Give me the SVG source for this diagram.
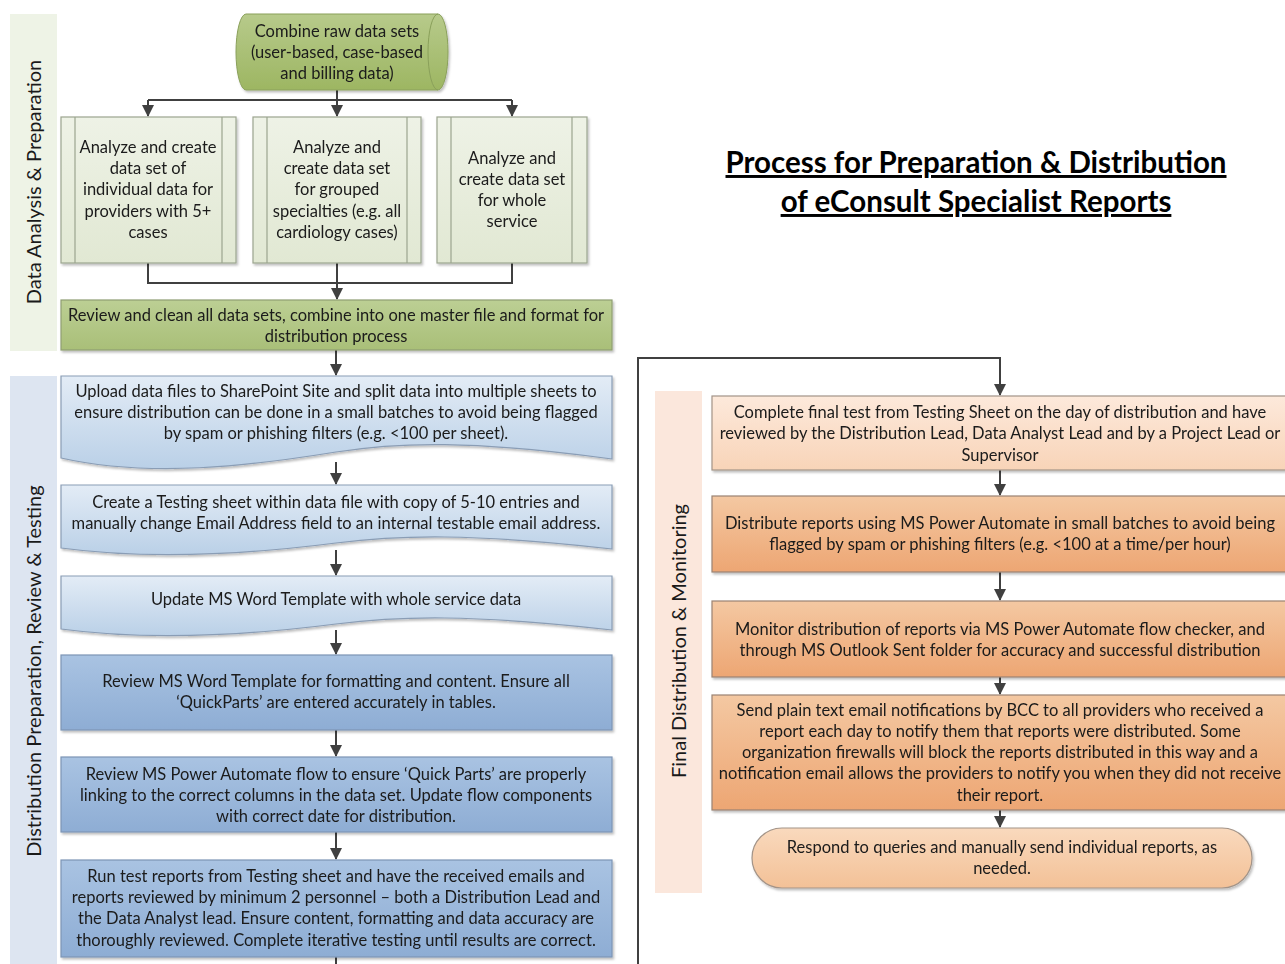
<svg xmlns="http://www.w3.org/2000/svg" width="1285" height="964" viewBox="0 0 1285 964">
<defs>
<style>
text{font-family:Lato,"Liberation Sans",sans-serif;font-size:16.5px;fill:#1a1a1a;text-anchor:middle;}
.lane{font-size:20px;}
.title{font-size:29.5px;font-weight:bold;text-decoration:underline;fill:#000;}
.conn{fill:none;stroke:#404040;stroke-width:2;}
.pp{fill:url(#gPP);stroke:#9ca58f;stroke-width:1.2;}
.ppl{stroke:#9ca58f;stroke-width:1.2;fill:none;}
.doc{fill:url(#gDoc);stroke:#8a9db5;stroke-width:1.2;}
.brect{fill:url(#gBlue);stroke:#7d95b5;stroke-width:1.2;}
.orng{fill:url(#gOr);stroke:#9a8373;stroke-width:1.2;}
</style>
<linearGradient id="gCyl" x1="0" y1="0" x2="0" y2="1"><stop offset="0" stop-color="#b7ca8b"/><stop offset="1" stop-color="#9db662"/></linearGradient>
<linearGradient id="gPP" x1="0" y1="0" x2="0" y2="1"><stop offset="0" stop-color="#eef2e6"/><stop offset="1" stop-color="#e1e8d3"/></linearGradient>
<linearGradient id="gG2" x1="0" y1="0" x2="0" y2="1"><stop offset="0" stop-color="#bccf94"/><stop offset="1" stop-color="#a9bf78"/></linearGradient>
<linearGradient id="gDoc" x1="0" y1="0" x2="0" y2="1"><stop offset="0" stop-color="#e3ecf6"/><stop offset="1" stop-color="#bad0e7"/></linearGradient>
<linearGradient id="gBlue" x1="0" y1="0" x2="0" y2="1"><stop offset="0" stop-color="#a9c3e2"/><stop offset="1" stop-color="#8eadd4"/></linearGradient>
<linearGradient id="gPe" x1="0" y1="0" x2="0" y2="1"><stop offset="0" stop-color="#fde9db"/><stop offset="1" stop-color="#f8d4b8"/></linearGradient>
<linearGradient id="gOr" x1="0" y1="0" x2="0" y2="1"><stop offset="0" stop-color="#f4c8a2"/><stop offset="1" stop-color="#eda673"/></linearGradient>
<linearGradient id="gTerm" x1="0" y1="0" x2="0" y2="1"><stop offset="0" stop-color="#f9d9bd"/><stop offset="1" stop-color="#f3c197"/></linearGradient>
<filter id="sh" x="-5%" y="-5%" width="110%" height="120%"><feDropShadow dx="1.5" dy="2" stdDeviation="1.2" flood-color="#000" flood-opacity="0.25"/></filter>
<marker id="ah" viewBox="0 0 12 12" refX="11" refY="6" markerWidth="12" markerHeight="12" orient="auto" markerUnits="userSpaceOnUse"><path d="M0,0 L12,6 L0,12 Z" fill="#404040"/></marker>
</defs>
<rect width="1285" height="964" fill="#ffffff"/>

<g id="lanes">
<g id="lane1"><rect x="10" y="14" width="47" height="337" fill="#eef3e6"/><text class="lane" transform="translate(41,182) rotate(-90)">Data Analysis &amp; Preparation</text></g>
<g id="lane2"><rect x="10" y="376" width="47" height="588" fill="#dde5f1"/><text class="lane" transform="translate(41,671) rotate(-90)">Distribution Preparation, Review &amp; Testing</text></g>
<g id="lane3"><rect x="655" y="391" width="47" height="502" fill="#fbe7dc"/><text class="lane" transform="translate(686,641) rotate(-90)">Final Distribution &amp; Monitoring</text></g>
</g>

<g id="title">
<text class="title" x="976" y="173">Process for Preparation &amp; Distribution</text>
<text class="title" x="976" y="212">of eConsult Specialist Reports</text>
</g>

<g id="connectors">
<path class="conn" d="M337,90 V100"/>
<path class="conn" d="M148,100 H512"/>
<path class="conn" d="M148,100 V116" marker-end="url(#ah)"/>
<path class="conn" d="M337,100 V116" marker-end="url(#ah)"/>
<path class="conn" d="M512,100 V116" marker-end="url(#ah)"/>
<path class="conn" d="M148,263 V283 H512 V263"/>
<path class="conn" d="M337,263 V299" marker-end="url(#ah)"/>
<path class="conn" d="M336,350 V375" marker-end="url(#ah)"/>
<path class="conn" d="M336,462 V484" marker-end="url(#ah)"/>
<path class="conn" d="M336,550 V575" marker-end="url(#ah)"/>
<path class="conn" d="M336,630 V654" marker-end="url(#ah)"/>
<path class="conn" d="M336,730 V756" marker-end="url(#ah)"/>
<path class="conn" d="M336,832 V859" marker-end="url(#ah)"/>
<path class="conn" d="M336,957 V966"/>
<path class="conn" d="M638,966 V358 H1000 V395" marker-end="url(#ah)"/>
<path class="conn" d="M1000,470 V495" marker-end="url(#ah)"/>
<path class="conn" d="M1000,572 V600" marker-end="url(#ah)"/>
<path class="conn" d="M1000,677 V694" marker-end="url(#ah)"/>
<path class="conn" d="M1000,810 V827" marker-end="url(#ah)"/>
</g>

<g id="n1" filter="url(#sh)">
<path d="M246,14 H438 A10,38 0 0 1 438,90 H246 A10,38 0 0 1 246,14 Z" fill="url(#gCyl)" stroke="#8aa05a" stroke-width="1"/>
<path d="M438,14 A10,38 0 0 0 438,90" fill="none" stroke="#8aa05a" stroke-width="1"/>
<text x="337" y="37">Combine raw data sets</text>
<text x="337" y="58">(user-based, case-based</text>
<text x="337" y="79">and billing data)</text>
</g>

<g id="n2" filter="url(#sh)">
<rect class="pp" x="61" y="117" width="175" height="146"/>
<path class="ppl" d="M75,117 V263 M222,117 V263"/>
<text x="148" y="153">Analyze and create</text>
<text x="148" y="174">data set of</text>
<text x="148" y="195">individual data for</text>
<text x="148" y="217">providers with 5+</text>
<text x="148" y="238">cases</text>
</g>

<g id="n3" filter="url(#sh)">
<rect class="pp" x="253" y="117" width="168" height="146"/>
<path class="ppl" d="M267,117 V263 M407,117 V263"/>
<text x="337" y="153">Analyze and</text>
<text x="337" y="174">create data set</text>
<text x="337" y="195">for grouped</text>
<text x="337" y="217">specialties (e.g. all</text>
<text x="337" y="238">cardiology cases)</text>
</g>

<g id="n4" filter="url(#sh)">
<rect class="pp" x="437" y="117" width="150" height="146"/>
<path class="ppl" d="M451,117 V263 M572,117 V263"/>
<text x="512" y="164">Analyze and</text>
<text x="512" y="185">create data set</text>
<text x="512" y="206">for whole</text>
<text x="512" y="227">service</text>
</g>

<g id="n5" filter="url(#sh)">
<rect x="61" y="300" width="551" height="50" fill="url(#gG2)" stroke="#8f9e72" stroke-width="1.2"/>
<text x="336" y="321">Review and clean all data sets, combine into one master file and format for</text>
<text x="336" y="342">distribution process</text>
</g>

<g id="n6" filter="url(#sh)">
<path class="doc" d="M61,376 H612 V459 C470,440 400,442 336,452 C250,466 150,478 61,458 Z"/>
<text x="336" y="397">Upload data files to SharePoint Site and split data into multiple sheets to</text>
<text x="336" y="418">ensure distribution can be done in a small batches to avoid being flagged</text>
<text x="336" y="439">by spam or phishing filters (e.g. &lt;100 per sheet).</text>
</g>

<g id="n7" filter="url(#sh)">
<path class="doc" d="M61,485 H612 V549 C470,533 400,535 336,543 C250,554 150,560 61,548 Z"/>
<text x="336" y="508">Create a Testing sheet within data file with copy of 5-10 entries and</text>
<text x="336" y="529">manually change Email Address field to an internal testable email address.</text>
</g>

<g id="n8" filter="url(#sh)">
<path class="doc" d="M61,576 H612 V630 C470,614 400,616 336,624 C250,635 150,641 61,629 Z"/>
<text x="336" y="605">Update MS Word Template with whole service data</text>
</g>

<g id="n9" filter="url(#sh)">
<rect class="brect" x="61" y="655" width="551" height="75"/>
<text x="336" y="687">Review MS Word Template for formatting and content. Ensure all</text>
<text x="336" y="708">‘QuickParts’ are entered accurately in tables.</text>
</g>

<g id="n10" filter="url(#sh)">
<rect class="brect" x="61" y="757" width="551" height="75"/>
<text x="336" y="780">Review MS Power Automate flow to ensure ‘Quick Parts’ are properly</text>
<text x="336" y="801">linking to the correct columns in the data set. Update flow components</text>
<text x="336" y="822">with correct date for distribution.</text>
</g>

<g id="n11" filter="url(#sh)">
<rect class="brect" x="61" y="860" width="551" height="97"/>
<text x="336" y="882">Run test reports from Testing sheet and have the received emails and</text>
<text x="336" y="903">reports reviewed by minimum 2 personnel – both a Distribution Lead and</text>
<text x="336" y="924">the Data Analyst lead. Ensure content, formatting and data accuracy are</text>
<text x="336" y="946">thoroughly reviewed. Complete iterative testing until results are correct.</text>
</g>

<g id="n12" filter="url(#sh)">
<rect x="712" y="396" width="580" height="74" fill="url(#gPe)" stroke="#a39488" stroke-width="1.2"/>
<text x="1000" y="418">Complete final test from Testing Sheet on the day of distribution and have</text>
<text x="1000" y="439">reviewed by the Distribution Lead, Data Analyst Lead and by a Project Lead or</text>
<text x="1000" y="461">Supervisor</text>
</g>

<g id="n13" filter="url(#sh)">
<rect class="orng" x="712" y="496" width="580" height="76"/>
<text x="1000" y="529">Distribute reports using MS Power Automate in small batches to avoid being</text>
<text x="1000" y="550">flagged by spam or phishing filters (e.g. &lt;100 at a time/per hour)</text>
</g>

<g id="n14" filter="url(#sh)">
<rect class="orng" x="712" y="601" width="580" height="76"/>
<text x="1000" y="635">Monitor distribution of reports via MS Power Automate flow checker, and</text>
<text x="1000" y="656">through MS Outlook Sent folder for accuracy and successful distribution</text>
</g>

<g id="n15" filter="url(#sh)">
<rect class="orng" x="712" y="695" width="580" height="115"/>
<text x="1000" y="716">Send plain text email notifications by BCC to all providers who received a</text>
<text x="1000" y="737">report each day to notify them that reports were distributed. Some</text>
<text x="1000" y="758">organization firewalls will block the reports distributed in this way and a</text>
<text x="1000" y="779">notification email allows the providers to notify you when they did not receive</text>
<text x="1000" y="801">their report.</text>
</g>

<g id="n16" filter="url(#sh)">
<rect x="752" y="828" width="500" height="60" rx="30" ry="30" fill="url(#gTerm)" stroke="#a39488" stroke-width="1.2"/>
<text x="1002" y="853">Respond to queries and manually send individual reports, as</text>
<text x="1002" y="874">needed.</text>
</g>
</svg>
